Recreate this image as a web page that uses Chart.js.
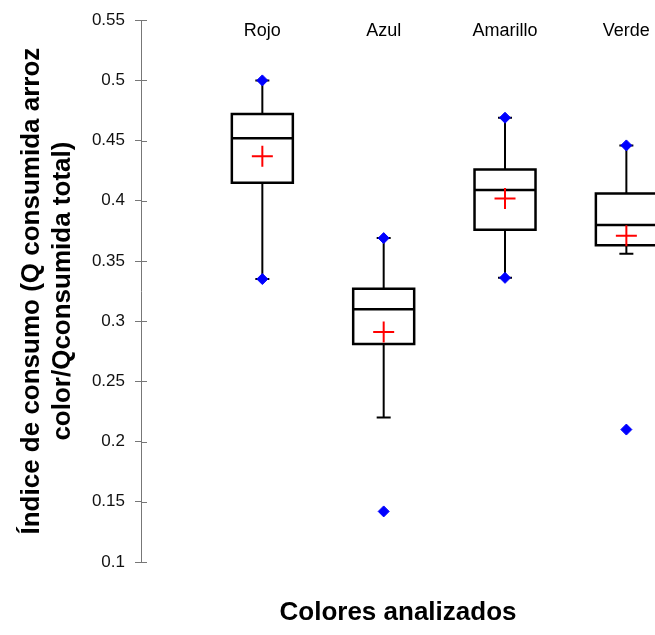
<!DOCTYPE html>
<html>
<head>
<meta charset="utf-8">
<script src="https://cdn.jsdelivr.net/npm/chart.js@4.4.0/dist/chart.umd.min.js"></script>
<style>
  html, body { margin: 0; padding: 0; background: #fff; overflow: hidden; }
</style>
</head>
<body>
<canvas id="myChart" width="655" height="635"></canvas>
<script>
const categories = ['Rojo', 'Azul', 'Amarillo', 'Verde'];
const q1Values = [0.415, 0.281, 0.376, 0.363];
const medianValues = [0.452, 0.310, 0.409, 0.380];
const q3Values = [0.472, 0.327, 0.426, 0.406];
const meanValues = [0.437, 0.291, 0.402, 0.371];
const whiskerLow = [0.335, 0.220, 0.336, 0.356];
const whiskerHigh = [0.500, 0.369, 0.469, 0.446];
const minValues = [0.335, 0.142, 0.336, 0.210];
const maxValues = [0.500, 0.369, 0.469, 0.446];
const yTickValues = [0.1, 0.15, 0.2, 0.25, 0.3, 0.35, 0.4, 0.45, 0.5, 0.55];
const yTitle = ['Índice de consumo (Q consumida arroz', 'color/Qconsumida total)'];
const xTitle = 'Colores analizados';

const BOX_HALF = 30.5;
const CAP_HALF = 7;

// boxes, whiskers, medians and top labels drawn from the scales
const boxPlugin = {
  id: 'boxes',
  beforeDatasetsDraw(chart) {
    const { ctx, chartArea, scales: { x, y } } = chart;
    ctx.save();

    // inner half of the y ticks
    ctx.strokeStyle = '#777';
    ctx.lineWidth = 1;
    yTickValues.forEach(v => {
      const py = Math.round(y.getPixelForValue(v)) + 0.5;
      ctx.beginPath();
      ctx.moveTo(chartArea.left, py);
      ctx.lineTo(chartArea.left + 6, py);
      ctx.stroke();
    });

    ctx.fillStyle = '#000';
    ctx.font = '18px Arial';
    ctx.textAlign = 'center';
    ctx.textBaseline = 'middle';
    categories.forEach((c, i) => {
      ctx.fillText(c, x.getPixelForValue(i), chartArea.top + 11);
    });

    ctx.beginPath();
    ctx.rect(chartArea.left, chartArea.top, chartArea.width, chartArea.height);
    ctx.clip();

    ctx.strokeStyle = '#000';
    categories.forEach((c, i) => {
      const cx = x.getPixelForValue(i);
      const yq1 = y.getPixelForValue(q1Values[i]);
      const yq3 = y.getPixelForValue(q3Values[i]);
      const ymed = y.getPixelForValue(medianValues[i]);
      const ylo = y.getPixelForValue(whiskerLow[i]);
      const yhi = y.getPixelForValue(whiskerHigh[i]);

      ctx.lineWidth = 2;
      ctx.beginPath();
      ctx.moveTo(cx, yq3); ctx.lineTo(cx, yhi);
      ctx.moveTo(cx, yq1); ctx.lineTo(cx, ylo);
      ctx.moveTo(cx - CAP_HALF, yhi); ctx.lineTo(cx + CAP_HALF, yhi);
      ctx.moveTo(cx - CAP_HALF, ylo); ctx.lineTo(cx + CAP_HALF, ylo);
      ctx.stroke();

      ctx.lineWidth = 2.5;
      ctx.beginPath();
      ctx.rect(cx - BOX_HALF, yq3, BOX_HALF * 2, yq1 - yq3);
      ctx.moveTo(cx - BOX_HALF, ymed); ctx.lineTo(cx + BOX_HALF, ymed);
      ctx.stroke();
    });
    ctx.restore();
  }
};

const ctx = document.getElementById('myChart').getContext('2d');
new Chart(ctx, {
  type: 'scatter',
  data: {
    datasets: [
      {
        label: 'Extremos',
        data: categories.flatMap((c, i) => [
          { x: i, y: maxValues[i] },
          { x: i, y: minValues[i] }
        ]),
        pointStyle: 'rectRot',
        pointRadius: 5.5,
        backgroundColor: '#0000ff',
        borderColor: '#0000ff',
        borderWidth: 1
      },
      {
        label: 'Media',
        data: categories.map((c, i) => ({ x: i, y: meanValues[i] })),
        pointStyle: 'cross',
        pointRadius: 10.5,
        borderColor: '#ff0000',
        borderWidth: 2
      }
    ]
  },
  options: {
    responsive: false,
    animation: false,
    layout: { autoPadding: false, padding: { top: 19, left: 0, right: 0, bottom: 0 } },
    plugins: {
      legend: { display: false },
      tooltip: { enabled: false }
    },
    scales: {
      x: {
        type: 'linear',
        min: -1,
        max: 3.236,
        grid: { display: false, drawTicks: false },
        border: { display: false },
        ticks: { display: false, callback: () => '' },
        title: {
          display: true,
          text: xTitle,
          color: '#000',
          font: { family: 'Arial', size: 26, weight: 'bold' },
          padding: { top: 0, bottom: 7 }
        },
        afterFit(s) { s.height = 73; }
      },
      y: {
        min: 0.1,
        max: 0.55,
        afterBuildTicks(s) { s.ticks = yTickValues.map(v => ({ value: v })); },
        ticks: {
          callback: v => String(v),
          color: '#111',
          font: { family: 'Arial', size: 17 },
          padding: 10
        },
        grid: { drawOnChartArea: false, tickLength: 6, color: '#777', lineWidth: 1 },
        border: { color: '#777', width: 1 },
        title: {
          display: true,
          text: yTitle,
          color: '#000',
          font: { family: 'Arial', size: 26, weight: 'bold', lineHeight: 1.19 },
          padding: { top: 16.5, bottom: 0 }
        },
        afterFit(s) { s.width = 141; }
      }
    }
  },
  plugins: [boxPlugin]
});
</script>
</body>
</html>
